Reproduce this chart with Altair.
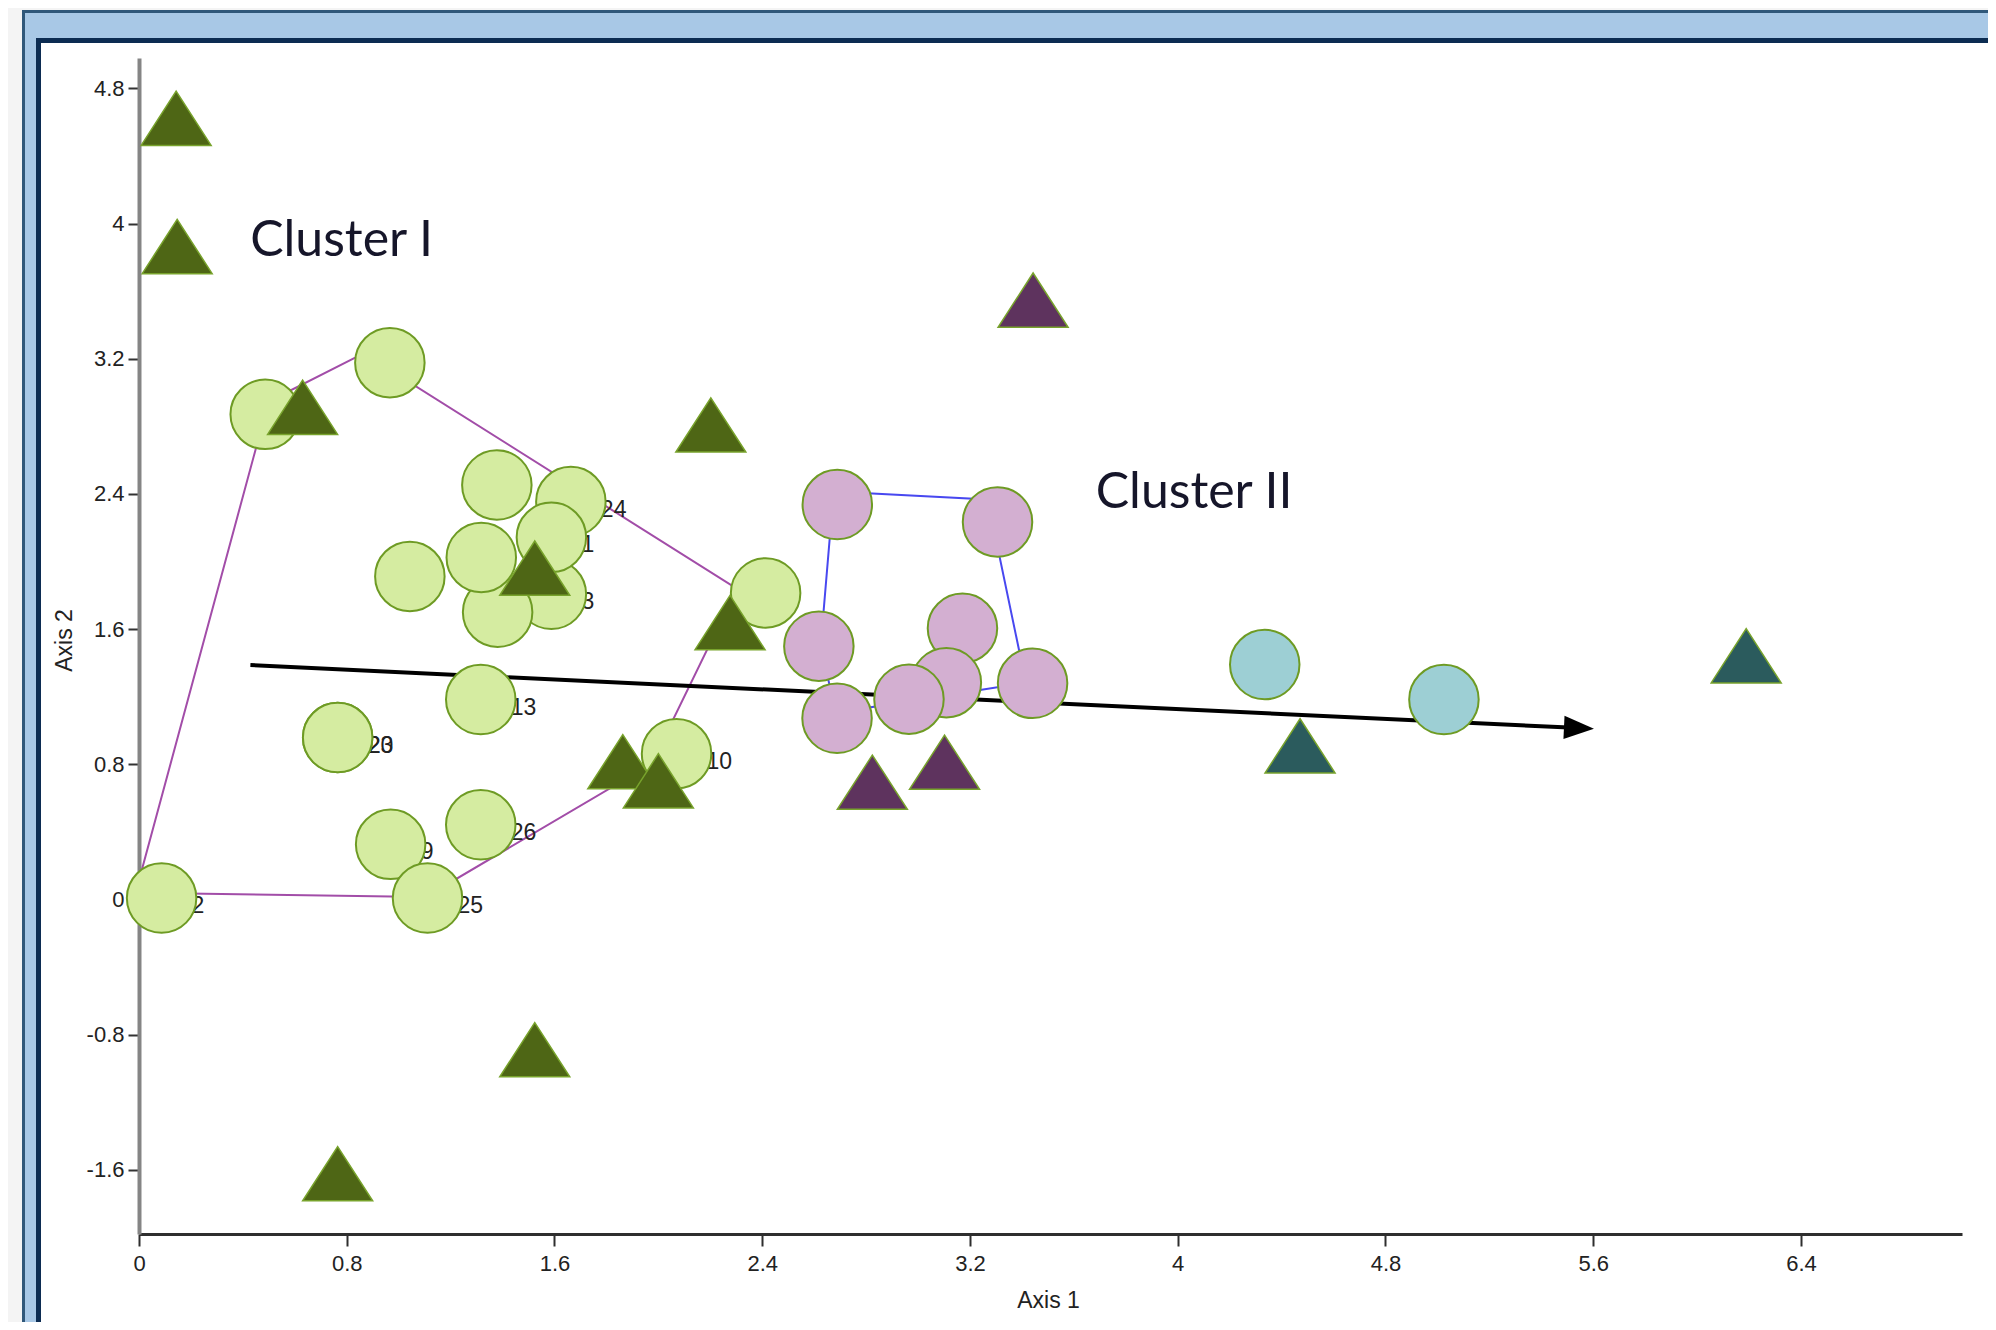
import altair as alt
import pandas as pd

# ---------------- data ----------------
# circles (Cluster I light green, Cluster II lilac, outliers teal)
circ_x = [0.966, 0.486, 1.378, 1.588, 1.381, 1.318, 1.663, 1.588, 1.043, 2.413,
          1.316, 0.765, 0.765, 2.070, 0.969, 1.316, 1.111, 0.087,
          2.689, 3.306, 2.618, 3.171, 3.441, 3.109, 2.965, 2.688,
          4.335, 5.025]
circ_y = [3.177, 2.871, 2.453, 1.806, 1.700, 2.024, 2.355, 2.143, 1.912, 1.814,
          1.183, 0.958, 0.958, 0.863, 0.326, 0.442, 0.008, 0.008,
          2.337, 2.234, 1.499, 1.605, 1.279, 1.283, 1.185, 1.072,
          1.390, 1.183]
circ_group = ["I"] * 18 + ["II"] * 8 + ["III"] * 2
circ_label = ["", "", "", "3", "", "", "24", "1", "", "",
              "13", "20", "23", "10", "9", "26", "25", "2",
              "", "", "", "", "", "", "", "",
              "", ""]

# triangles
tri_x = [0.143, 0.147, 0.630, 2.202, 1.524, 2.276, 1.863, 2.000, 1.524, 0.765,
         3.443, 2.824, 3.102,
         4.471, 6.189]
tri_y = [4.623, 3.864, 2.913, 2.808, 1.961, 1.639, 0.815, 0.702, -0.889, -1.623,
         3.547, 0.694, 0.812,
         0.909, 1.442]
tri_group = ["A"] * 10 + ["B"] * 3 + ["C"] * 2

# convex hulls (vertices as drawn)
hull1_x = [-0.013, 0.499, 0.865, 2.302, 1.974, 1.104, -0.013]
hull1_y = [0.039, 2.947, 3.232, 1.839, 0.803, 0.015, 0.039]
hull2_x = [2.675, 3.268, 3.415, 2.683, 2.625, 2.675]
hull2_y = [2.414, 2.367, 1.283, 1.105, 1.502, 2.414]

# arrow
arrow_x = [0.429, 5.506]
arrow_y = [1.387, 1.017]
arrow_head_x = [5.545]
arrow_head_y = [1.014]

# annotations
note_text = ["Cluster I", "Cluster II"]
note_x = [0.428, 3.684]
note_y = [3.898, 2.404]

x_ticks = [0, 0.8, 1.6, 2.4, 3.2, 4, 4.8, 5.6, 6.4]
x_tick_labels = ["0", "0.8", "1.6", "2.4", "3.2", "4", "4.8", "5.6", "6.4"]
y_ticks = [-1.6, -0.8, 0, 0.8, 1.6, 2.4, 3.2, 4, 4.8]
y_tick_labels = ["-1.6", "-0.8", "0", "0.8", "1.6", "2.4", "3.2", "4", "4.8"]

# ---------------- chart ----------------
W, H = 1823, 1176
PAD = {"left": 131, "top": 50, "right": 26, "bottom": 88}
FONT = "Liberation Sans"


def tick_expr(vals, labs):
    s = "''"
    for v, l in reversed(list(zip(vals, labs))):
        s = f"abs(datum.value - ({v})) < 0.001 ? '{l}' : {s}"
    return s


xs = alt.Scale(domain=[0, 7.02], nice=False, zero=False)
ys = alt.Scale(domain=[-1.98, 4.98], nice=False, zero=False)

x_axis = alt.Axis(
    values=x_ticks, labelExpr=tick_expr(x_ticks, x_tick_labels), title="Axis 1",
    grid=False, domainColor="#2e2e2e", domainWidth=3, tickColor="#2e2e2e",
    tickWidth=2, tickSize=12, labelFont=FONT, labelFontSize=22, labelColor="#222222",
    labelPadding=7, labelFlush=False, labelOverlap=False,
    titleFont=FONT, titleFontSize=23, titleFontWeight="normal", titleColor="#222222",
    titleX=909, titleY=66, titleBaseline="middle", titleAlign="center")
y_axis = alt.Axis(
    values=y_ticks, labelExpr=tick_expr(y_ticks, y_tick_labels), title="Axis 2",
    grid=False, domainColor="#858585", domainWidth=4, tickColor="#333333",
    tickWidth=2, tickSize=11, labelFont=FONT, labelFontSize=22, labelColor="#222222",
    labelPadding=4, labelFlush=False, labelOverlap=False,
    titleFont=FONT, titleFontSize=23, titleFontWeight="normal", titleColor="#222222",
    titleX=-75, titleY=582, titleBaseline="middle", titleAlign="center", titleAngle=270)

one = alt.Data(values=[{"k": 0}])

# window frame (decoration around the plot)
FRAME = [
    (-131, -117, -50, 1264, "#f4f4f4"),
    (-131, 1849, -50, -48, "#f4f4f4"),
    (-117, -114, -48, 1264, "#30587a"),
    (-117, 1849, -48, -45, "#30587a"),
    (-114, -103, -45, 1264, "#a8c8e6"),
    (-114, 1849, -45, -20, "#a8c8e6"),
    (-103, -98, -20, 1264, "#0c2c52"),
    (-103, 1849, -20, -15, "#0c2c52"),
]
frame_layers = [
    alt.Chart(one).mark_rect(color=c, strokeWidth=0).encode(
        x=alt.value(a), x2=alt.value(b), y=alt.value(c1), y2=alt.value(c2))
    for (a, b, c1, c2, c) in FRAME
]

df_c = pd.DataFrame({"x": circ_x, "y": circ_y, "g": circ_group, "lab": circ_label})
df_t = pd.DataFrame({"x": tri_x, "y": tri_y, "g": tri_group})
df_h1 = pd.DataFrame({"x": hull1_x, "y": hull1_y, "i": list(range(len(hull1_x)))})
df_h2 = pd.DataFrame({"x": hull2_x, "y": hull2_y, "i": list(range(len(hull2_x)))})
df_a = pd.DataFrame({"x": arrow_x, "y": arrow_y, "i": [0, 1]})
df_ah = pd.DataFrame({"x": arrow_head_x, "y": arrow_head_y})
df_n = pd.DataFrame({"x": note_x, "y": note_y, "t": note_text})
df_l = df_c[df_c["lab"] != ""]

X0 = alt.X("x:Q", scale=xs, axis=x_axis)
Y0 = alt.Y("y:Q", scale=ys, axis=y_axis)

hull1 = alt.Chart(df_h1).mark_line(color="#a24da8", strokeWidth=2).encode(x=X0, y=Y0, order="i:Q")
hull2 = alt.Chart(df_h2).mark_line(color="#4848f0", strokeWidth=2).encode(x=X0, y=Y0, order="i:Q")
arrow = alt.Chart(df_a).mark_line(color="#000000", strokeWidth=4).encode(x=X0, y=Y0, order="i:Q")
head = alt.Chart(df_ah).mark_point(
    shape="M1,0L-1,-0.77L-1,0.77Z", size=900, filled=True, color="#000000",
    opacity=1, angle=2.72, strokeWidth=0).encode(x=X0, y=Y0)

labels = alt.Chart(df_l).mark_text(
    font=FONT, fontSize=23, align="left", baseline="middle", dx=30, dy=8,
    color="#222222").encode(x=X0, y=Y0, text="lab:N")

circles = alt.Chart(df_c).mark_point(
    shape="circle", filled=True, size=4830, opacity=1, stroke="#6e9b24",
    strokeWidth=2, strokeOpacity=1).encode(
    x=X0, y=Y0,
    color=alt.Color("g:N", scale=alt.Scale(domain=["I", "II", "III"],
                    range=["#d5eca1", "#d3afd1", "#9dcfd4"]), legend=None))

triangles = alt.Chart(df_t).mark_point(
    shape="M0,-0.775L1,0.775L-1,0.775Z", filled=True, size=4900, opacity=1,
    stroke="#78a32c", strokeWidth=1.5, strokeOpacity=1).encode(
    x=X0, y=Y0,
    color=alt.Color("g:N", scale=alt.Scale(domain=["A", "B", "C"],
                    range=["#4e6615", "#5e335e", "#2b5b5d"]), legend=None))

notes = alt.Chart(df_n).mark_text(
    font="Lato", fontSize=50, align="left", baseline="middle", color="#16162a").encode(
    x=X0, y=Y0, text="t:N")

chart = alt.layer(
    *frame_layers, hull1, hull2, arrow, head, labels, circles, triangles, notes
).resolve_scale(color="independent").properties(
    width=W, height=H, padding=PAD,
    autosize=alt.AutoSizeParams(type="none"), background="#ffffff"
).configure_view(strokeWidth=0)

chart.save("out.html", embed_options={"renderer": "svg", "actions": False})
